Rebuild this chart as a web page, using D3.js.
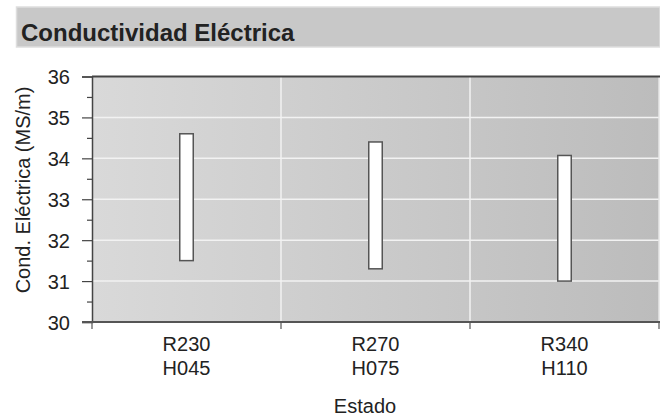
<!DOCTYPE html>
<html>
<head>
<meta charset="utf-8">
<script src="https://cdn.jsdelivr.net/npm/d3@7"></script>
<style>
  html, body { margin: 0; padding: 0; background: #fff; }
  svg { display: block; }
  text { font-family: "Liberation Sans", Arial, Helvetica, sans-serif; fill: #222; }
</style>
</head>
<body>
<svg id="chart" width="660" height="416"></svg>
<script>
// ---- data ----
const categories = ["R230|H045", "R270|H075", "R340|H110"];
const lowValues  = [31.5, 31.3, 31.0];
const highValues = [34.6, 34.4, 34.07];
const yTicks = [30, 31, 32, 33, 34, 35, 36];
const yMinorTicks = [30.5, 31.5, 32.5, 33.5, 34.5, 35.5];
const chartTitle = "Conductividad Eléctrica";
const yTitle = "Cond. Eléctrica (MS/m)";
const xTitle = "Estado";

const svg = d3.select("#chart");
const m = { left: 92, right: 659, top: 76.5, bottom: 322 };

// title band
svg.append("rect").attr("x", 16.5).attr("y", 7).attr("width", 660 - 16.5).attr("height", 40)
  .attr("fill", "#c8c8c8").attr("stroke", "#dedede").attr("stroke-width", 1.5);
svg.append("text").attr("x", 21).attr("y", 41)
  .attr("font-size", 24).attr("font-weight", "bold").style("fill", "#222")
  .text(chartTitle);

const x = d3.scaleBand().domain(categories).range([m.left, m.right]).paddingInner(0).paddingOuter(0);
const y = d3.scaleLinear().domain([30, 36]).range([m.bottom, m.top]);

// plot background gradient
const defs = svg.append("defs");
const grad = defs.append("linearGradient").attr("id", "bg").attr("x1", "0").attr("x2", "1").attr("y1", "0").attr("y2", "0");
grad.append("stop").attr("offset", "0").attr("stop-color", "#d9d9d9");
grad.append("stop").attr("offset", "1").attr("stop-color", "#bcbcbc");
svg.append("rect").attr("x", m.left).attr("y", m.top).attr("width", m.right - m.left).attr("height", m.bottom - m.top)
  .attr("fill", "url(#bg)");

// horizontal grid
svg.append("g").selectAll("line").data(yTicks.slice(1, -1)).join("line")
  .attr("x1", m.left).attr("x2", m.right).attr("y1", d => y(d)).attr("y2", d => y(d))
  .attr("stroke", "#f2f2f2").attr("stroke-width", 1.5);
// vertical grid at category boundaries
svg.append("g").selectAll("line").data(categories.slice(1)).join("line")
  .attr("x1", d => x(d)).attr("x2", d => x(d)).attr("y1", m.top).attr("y2", m.bottom)
  .attr("stroke", "#f2f2f2").attr("stroke-width", 1.5);
// right edge light
svg.append("line").attr("x1", m.right).attr("x2", m.right).attr("y1", m.top).attr("y2", m.bottom)
  .attr("stroke", "#e6e6e6").attr("stroke-width", 1.5);
// top border
svg.append("line").attr("x1", m.left).attr("x2", m.right + 1).attr("y1", m.top).attr("y2", m.top)
  .attr("stroke", "#444").attr("stroke-width", 2);

// bars (floating ranges)
const bw = 13.5;
svg.append("g").selectAll("rect").data(categories).join("rect")
  .attr("x", d => x(d) + x.bandwidth() / 2 - bw / 2)
  .attr("y", (d, i) => y(highValues[i]))
  .attr("width", bw)
  .attr("height", (d, i) => y(lowValues[i]) - y(highValues[i]))
  .attr("fill", "#fff").attr("stroke", "#555").attr("stroke-width", 1.5);

// y axis
const yAxis = d3.axisLeft(y).tickValues(yTicks).tickSize(10).tickPadding(12).tickFormat(d3.format("d"));
const gy = svg.append("g").attr("transform", `translate(${m.left},0)`).call(yAxis);
gy.select(".domain").attr("stroke", "#444").attr("stroke-width", 1.5);
gy.selectAll(".tick line").attr("stroke", "#444").attr("stroke-width", 1.2);
gy.selectAll(".tick text").attr("font-size", 20).style("fill", "#222")
  .attr("font-family", "Liberation Sans, Arial, sans-serif").attr("dy", "0.36em");
const yMinor = d3.axisLeft(y).tickValues(yMinorTicks).tickSize(5).tickFormat("");
const gym = svg.append("g").attr("transform", `translate(${m.left},0)`).call(yMinor);
gym.select(".domain").remove();
gym.selectAll(".tick line").attr("stroke", "#444").attr("stroke-width", 1.2);

// x axis
const boundaries = categories.map(c => x(c)).concat([m.right]);
const gx = svg.append("g").attr("transform", `translate(0,${m.bottom})`);
gx.append("line").attr("x1", m.left - 10).attr("x2", m.right + 1).attr("y1", 0).attr("y2", 0)
  .attr("stroke", "#555").attr("stroke-width", 2);
gx.selectAll("line.tk").data(boundaries).join("line").attr("class", "tk")
  .attr("x1", d => d).attr("x2", d => d).attr("y1", 0).attr("y2", 7)
  .attr("stroke", "#555").attr("stroke-width", 1.2);
const lbl = gx.selectAll("text.cat").data(categories).join("text").attr("class", "cat")
  .attr("x", d => x(d) + x.bandwidth() / 2)
  .attr("y", 29)
  .attr("text-anchor", "middle").attr("font-size", 20);
lbl.each(function(d) {
  const parts = d.split("|");
  const t = d3.select(this);
  parts.forEach((p, i) => t.append("tspan").attr("x", x(d) + x.bandwidth() / 2).attr("dy", i === 0 ? 0 : 23.5).text(p));
});

// axis titles
svg.append("text").attr("x", 365).attr("y", 413).attr("text-anchor", "middle").attr("font-size", 20).text(xTitle);
svg.append("text").attr("transform", `translate(30,190) rotate(-90)`)
  .attr("text-anchor", "middle").attr("font-size", 20).text(yTitle);
</script>
</body>
</html>
